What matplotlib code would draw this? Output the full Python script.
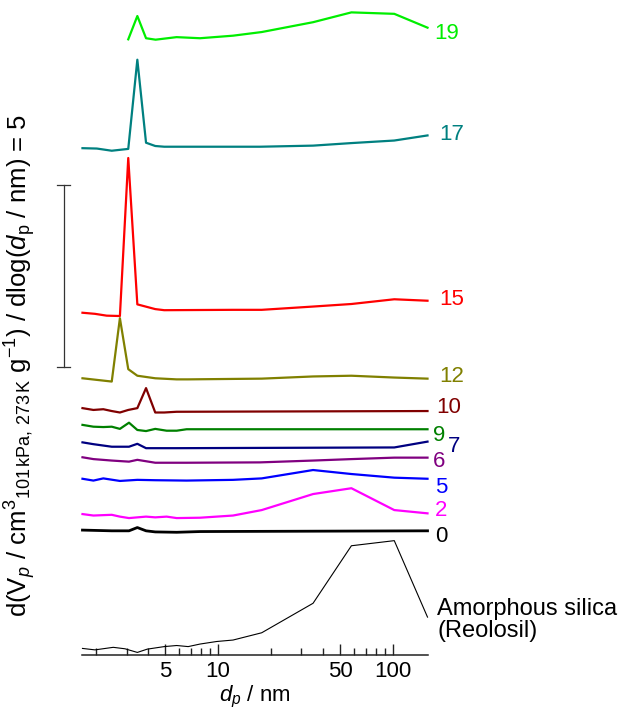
import matplotlib
matplotlib.use("Agg")
import matplotlib.pyplot as plt
from matplotlib.ticker import FixedLocator, NullFormatter

plt.rcParams['font.family'] = ['Liberation Sans', 'DejaVu Sans']
plt.rcParams['mathtext.fontset'] = 'custom'
plt.rcParams['mathtext.rm'] = 'Liberation Sans'
plt.rcParams['mathtext.it'] = 'Liberation Sans:italic'

# pore diameter (nm) and stacked dV/dlog(d) values (offset already included)
d19 = [3.07, 3.46, 3.88, 4.4, 5.8, 7.9, 12.2, 17.8, 35, 58, 102, 158]
v19 = [16.91, 17.55, 16.94, 16.90, 16.97, 16.94, 17.01, 17.11, 17.38, 17.65, 17.61, 17.23]

d17 = [1.68, 2.03, 2.47, 3.07, 3.46, 3.88, 4.38, 4.93, 17.4, 35, 58, 102, 158]
v17 = [13.92, 13.91, 13.85, 13.90, 16.35, 14.07, 13.98, 13.96, 13.96, 13.99, 14.06, 14.13, 14.27]

d15 = [1.68, 1.98, 2.31, 2.75, 3.07, 3.46, 4.38, 4.93, 12.2, 17.8, 35, 58, 102, 158]
v15 = [9.40, 9.37, 9.32, 9.31, 13.65, 9.63, 9.50, 9.47, 9.48, 9.48, 9.57, 9.64, 9.77, 9.73]

d12 = [1.68, 2.47, 2.75, 3.07, 3.46, 4.38, 5.8, 6.76, 17.8, 35, 58, 102, 158]
v12 = [7.60, 7.51, 9.25, 7.85, 7.67, 7.60, 7.57, 7.57, 7.59, 7.65, 7.67, 7.62, 7.59]

d10 = [1.68, 1.94, 2.21, 2.47, 2.75, 3.07, 3.46, 3.88, 4.38, 4.93, 5.8, 158]
v10 = [6.78, 6.73, 6.75, 6.70, 6.66, 6.73, 6.78, 7.33, 6.66, 6.66, 6.68, 6.70]

d9 = [1.68, 1.94, 2.21, 2.47, 2.75, 3.1, 3.46, 3.88, 4.38, 5.09, 5.81, 6.62, 158]
v9 = [6.32, 6.27, 6.26, 6.27, 6.21, 6.38, 6.18, 6.15, 6.21, 6.16, 6.16, 6.20, 6.20]

d7 = [1.68, 1.94, 2.47, 3.1, 3.46, 3.88, 5.81, 102, 158]
v7 = [5.84, 5.79, 5.72, 5.72, 5.80, 5.68, 5.68, 5.70, 5.86]

d6 = [1.68, 1.94, 2.47, 3.1, 3.46, 4.38, 6.62, 17.4, 35, 58, 102, 158]
v6 = [5.43, 5.38, 5.34, 5.31, 5.36, 5.28, 5.28, 5.29, 5.34, 5.38, 5.42, 5.42]

d5 = [1.68, 1.94, 2.21, 2.75, 3.46, 4.38, 6.62, 12.2, 17.8, 35, 58, 102, 158]
v5 = [4.84, 4.79, 4.85, 4.78, 4.81, 4.80, 4.79, 4.81, 4.85, 5.08, 4.97, 4.87, 4.84]

d2 = [1.68, 1.94, 2.47, 2.75, 3.1, 3.88, 4.38, 5.09, 5.81, 7.9, 12.2, 17.8, 35, 58, 102, 158]
v2 = [3.87, 3.83, 3.85, 3.80, 3.76, 3.80, 3.78, 3.80, 3.76, 3.77, 3.83, 3.98, 4.42, 4.58, 3.98, 3.89]

d0 = [1.68, 2.47, 3.1, 3.46, 3.88, 4.38, 5.81, 7.9, 158]
v0 = [3.43, 3.41, 3.41, 3.50, 3.41, 3.38, 3.37, 3.39, 3.41]

d_si = [1.68, 1.98, 2.52, 2.94, 3.46, 3.94, 4.93, 5.81, 6.76, 7.9, 9.83, 12.2, 17.8, 35, 58, 102, 158]
v_si = [0.18, 0.14, 0.21, 0.17, 0.07, 0.16, 0.23, 0.26, 0.23, 0.30, 0.37, 0.41, 0.61, 1.42, 3.00, 3.14, 1.04]

labels = ['19', '17', '15', '12', '10', '9', '7', '6', '5', '2', '0']
colors = ['#00ee00', '#008080', '#ff0000', '#808000', '#800000', '#008000',
          '#000080', '#800080', '#0000ff', '#ff00ff', '#000000']
series = [(d19, v19), (d17, v17), (d15, v15), (d12, v12), (d10, v10), (d9, v9),
          (d7, v7), (d6, v6), (d5, v5), (d2, v2), (d0, v0)]
# label anchor (nm, stacked units)
label_pos = [(172, 17.08), (184, 14.29), (184, 9.75), (184, 7.65), (178, 6.79),
             (169, 6.04), (206, 5.72), (169, 5.31), (174, 4.59), (174, 3.98), (174, 3.25)]

fig = plt.figure(figsize=(6.2, 7.11), dpi=100)
ax = fig.add_axes([0.1323, 0.0788, 0.558, 0.9212])

for (d, v), c, lab, (lx, ly) in zip(series, colors, labels, label_pos):
    lw = 2.0 if lab == '0' else 1.6
    ax.plot(d, v, color=c, lw=lw, clip_on=False)
    ax.text(lx, ly, lab, color=c, fontsize=16, ha='left', va='center', clip_on=False)

ax.plot(d_si, v_si, color='black', lw=0.8, clip_on=False)
ax.text(180, 0.95, 'Amorphous silica\n(Reolosil)', fontsize=17, ha='left', va='center',
        linespacing=1.0)

ax.set_xscale('log')
ax.set_xlim(1.67, 159)
ax.set_ylim(0, 17.99)

# scale bar = 5
ax.plot([1.318, 1.318], [7.91, 12.91], color='#333333', lw=0.9, clip_on=False)
ax.plot([1.20, 1.43], [7.91, 7.91], color='#333333', lw=0.9, clip_on=False)
ax.plot([1.20, 1.43], [12.91, 12.91], color='#333333', lw=0.9, clip_on=False)

for s in ['top', 'right', 'left']:
    ax.spines[s].set_visible(False)
ax.spines['bottom'].set_linewidth(1.1)
ax.spines['bottom'].set_color('#222222')
ax.set_yticks([])

ax.xaxis.set_major_locator(FixedLocator([5, 10, 50, 100]))
ax.set_xticklabels(['5', '10', '50', '100'])
ax.xaxis.set_minor_locator(FixedLocator([2, 3, 4, 6, 7, 8, 9, 20, 30, 40, 60, 70, 80, 90]))
ax.xaxis.set_minor_formatter(NullFormatter())
ax.tick_params(axis='x', which='major', direction='in', length=8, width=1, labelsize=16, pad=4,
               color='#222222')
ax.tick_params(axis='x', which='minor', direction='in', length=5, width=1, color='#222222')

ax.set_xlabel(r'$d_p$ / nm', fontsize=16, labelpad=2)
fig.text(0.032, 0.486,
         r'd(V$_p$ / cm$^3$$_{\mathrm{101\,kPa,\,273\,K}}$ g$^{-1}$) / dlog($d_{\mathrm{p}}$ / nm) = 5',
         rotation=90, fontsize=18.5, ha='center', va='center')

fig.savefig('out.png', dpi=100)
